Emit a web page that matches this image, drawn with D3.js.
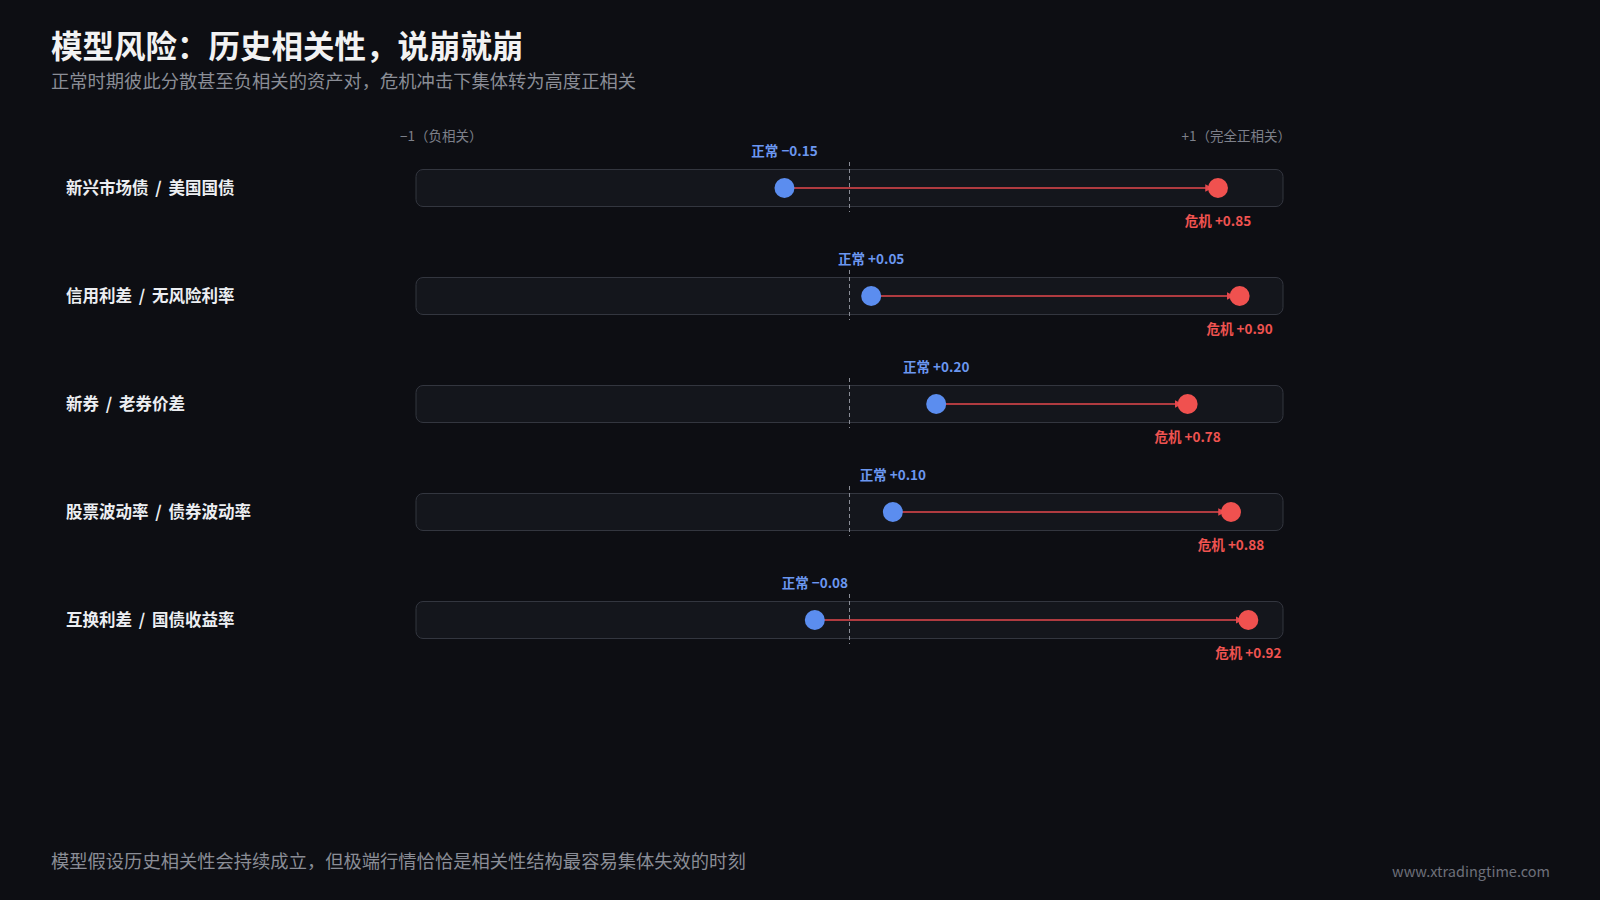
<!DOCTYPE html>
<html><head><meta charset="utf-8">
<script src="https://cdn.jsdelivr.net/npm/d3@7"></script>
<style>
body{margin:0;background:#0d0e13;}
svg{display:block;font-family:"Noto Sans CJK SC","Noto Sans",sans-serif;}
</style></head>
<body><svg id="chart"></svg>
<script>
const pairs = ["新兴市场债 / 美国国债", "信用利差 / 无风险利率", "新券 / 老券价差", "股票波动率 / 债券波动率", "互换利差 / 国债收益率"];
const normalValues = [-0.15, 0.05, 0.20, 0.10, -0.08];
const crisisValues = [0.85, 0.90, 0.78, 0.88, 0.92];
const fmt = v => (v < 0 ? "\u2212" : "+") + Math.abs(v).toFixed(2);

const W = 1600, H = 900;
const svg = d3.select("#chart").attr("width", W).attr("height", H);
svg.append("rect").attr("width", W).attr("height", H).attr("fill", "#0d0e13");

svg.append("defs").append("marker").attr("id", "arr")
  .attr("viewBox", "0 0 10 10").attr("refX", 9).attr("refY", 5)
  .attr("markerWidth", 5).attr("markerHeight", 5).attr("orient", "auto")
  .append("path").attr("d", "M0,0L10,5L0,10z").attr("fill", "#e5484d");

svg.append("text").attr("x", 51).attr("y", 58).attr("fill", "#f2f2f2")
  .attr("font-size", 31.5).attr("font-weight", 700).text("模型风险：历史相关性，说崩就崩");
svg.append("text").attr("x", 51).attr("y", 88).attr("fill", "#8a8d96")
  .attr("font-size", 18.3).text("正常时期彼此分散甚至负相关的资产对，危机冲击下集体转为高度正相关");

const x = d3.scaleLinear().domain([-1, 1]).range([416, 1283]);
const y = d3.scaleBand().domain(pairs).range([134, 674]).paddingInner(0);

svg.append("text").attr("x", x(-1) - 16).attr("y", 141).attr("fill", "#7d808a")
  .attr("font-size", 13.5).text("−1（负相关）");
svg.append("text").attr("x", x(1) + 8).attr("y", 141).attr("text-anchor", "end").attr("fill", "#7d808a")
  .attr("font-size", 13.5).text("+1（完全正相关）");

pairs.forEach((p, i) => {
  const cy = y(p) + y.bandwidth() / 2;
  const g = svg.append("g");
  g.append("text").attr("x", 66).attr("y", cy + 6).attr("fill", "#eceef2")
    .attr("font-size", 16.5).attr("font-weight", 700).attr("word-spacing", 3).text(p);
  g.append("rect").attr("x", x(-1)).attr("y", cy - 18.5).attr("width", x(1) - x(-1)).attr("height", 37)
    .attr("rx", 7).attr("fill", "#14161c").attr("stroke", "#33363f").attr("stroke-width", 1);
  g.append("line").attr("x1", x(0)).attr("x2", x(0)).attr("y1", cy - 26).attr("y2", cy + 24)
    .attr("stroke", "#8a8d96").attr("stroke-dasharray", "4,3").attr("stroke-width", 1);
  g.append("line").attr("x1", x(normalValues[i])).attr("x2", x(crisisValues[i]) - 6)
    .attr("y1", cy).attr("y2", cy).attr("stroke", "#e5484d").attr("stroke-width", 1.5)
    .attr("marker-end", "url(#arr)");
  g.append("circle").attr("cx", x(normalValues[i])).attr("cy", cy).attr("r", 10).attr("fill", "#5b8def");
  g.append("circle").attr("cx", x(crisisValues[i])).attr("cy", cy).attr("r", 10).attr("fill", "#f0514f");
  g.append("text").attr("x", x(normalValues[i])).attr("y", cy - 32).attr("text-anchor", "middle")
    .attr("fill", "#6b97f0").attr("font-size", 13.5).attr("font-weight", 700).text("正常 " + fmt(normalValues[i]));
  g.append("text").attr("x", x(crisisValues[i])).attr("y", cy + 38).attr("text-anchor", "middle")
    .attr("fill", "#ef5350").attr("font-size", 13.5).attr("font-weight", 700).text("危机 " + fmt(crisisValues[i]));
});

svg.append("text").attr("x", 51).attr("y", 868).attr("fill", "#8a8d96")
  .attr("font-size", 18.3).text("模型假设历史相关性会持续成立，但极端行情恰恰是相关性结构最容易集体失效的时刻");
svg.append("text").attr("x", 1550).attr("y", 877).attr("text-anchor", "end").attr("fill", "#6d707a")
  .attr("font-size", 14.5).text("www.xtradingtime.com");
</script></body></html>
